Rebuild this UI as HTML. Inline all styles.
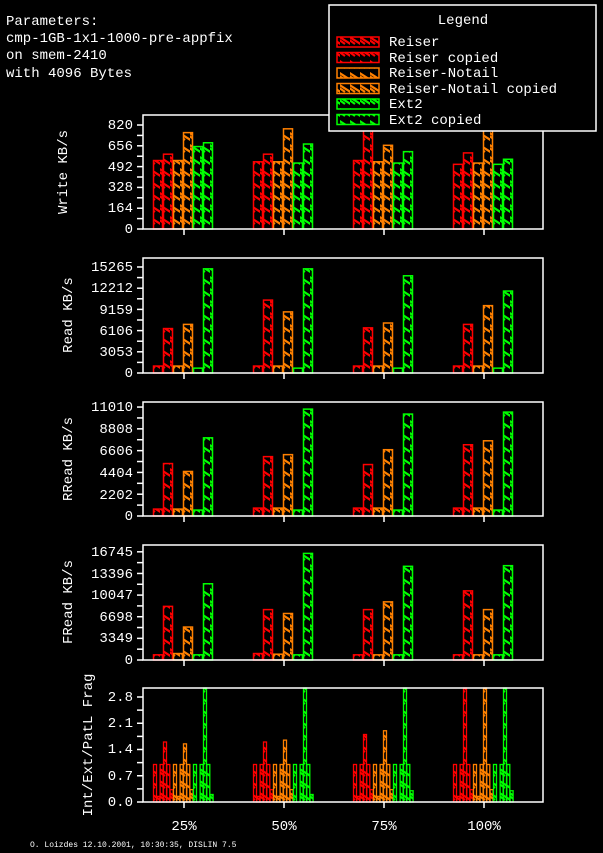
<!DOCTYPE html>
<html><head><style>
html,body{margin:0;padding:0;background:#000;overflow:hidden;}
svg{display:block;}
text{font-family:"Liberation Mono",monospace;fill:#fff;font-size:14px;}
</style></head><body>
<svg id="s" width="603" height="853" viewBox="0 0 603 853" xmlns="http://www.w3.org/2000/svg">
<defs>
<pattern id="hr" width="10" height="12" patternUnits="userSpaceOnUse"><path d="M-2,0 L12,9 M-2,3 L5,8" stroke="#f00" stroke-width="2.2"/></pattern>
<pattern id="ho" width="10" height="12" patternUnits="userSpaceOnUse"><path d="M-2,0 L12,9 M-2,3 L5,8" stroke="#ff8000" stroke-width="2.2"/></pattern>
<pattern id="hg" width="10" height="12" patternUnits="userSpaceOnUse"><path d="M-2,0 L12,9 M-2,3 L5,8" stroke="#0f0" stroke-width="2.2"/></pattern>
</defs>
<text x="6" y="25">Parameters:</text>
<text x="6" y="42">cmp-1GB-1x1-1000-pre-appfix</text>
<text x="6" y="59">on smem-2410</text>
<text x="6" y="77">with 4096 Bytes</text>
<g id="bars"></g>
<g stroke="#fff" stroke-width="1.5" fill="none">
<path d="M143,115H543V229H143Z M143,258H543V373H143Z M143,402H543V516H143Z M143,545H543V660H143Z M143,688H543V802H143Z"/>
</g>
<g id="axes" stroke="#fff" stroke-width="1.5" fill="none"></g>
<text x="133" y="233" text-anchor="end">0</text>
<text x="133" y="212" text-anchor="end">164</text>
<text x="133" y="191" text-anchor="end">328</text>
<text x="133" y="171" text-anchor="end">492</text>
<text x="133" y="150" text-anchor="end">656</text>
<text x="133" y="129" text-anchor="end">820</text>
<text x="133" y="377" text-anchor="end">0</text>
<text x="133" y="356" text-anchor="end">3053</text>
<text x="133" y="335" text-anchor="end">6106</text>
<text x="133" y="314" text-anchor="end">9159</text>
<text x="133" y="292" text-anchor="end">12212</text>
<text x="133" y="271" text-anchor="end">15265</text>
<text x="133" y="520" text-anchor="end">0</text>
<text x="133" y="499" text-anchor="end">2202</text>
<text x="133" y="477" text-anchor="end">4404</text>
<text x="133" y="455" text-anchor="end">6606</text>
<text x="133" y="433" text-anchor="end">8808</text>
<text x="133" y="411" text-anchor="end">11010</text>
<text x="133" y="664" text-anchor="end">0</text>
<text x="133" y="642" text-anchor="end">3349</text>
<text x="133" y="621" text-anchor="end">6698</text>
<text x="133" y="599" text-anchor="end">10047</text>
<text x="133" y="578" text-anchor="end">13396</text>
<text x="133" y="556" text-anchor="end">16745</text>
<text x="133" y="806" text-anchor="end">0.0</text>
<text x="133" y="780" text-anchor="end">0.7</text>
<text x="133" y="753" text-anchor="end">1.4</text>
<text x="133" y="727" text-anchor="end">2.1</text>
<text x="133" y="701" text-anchor="end">2.8</text>
<text transform="translate(67,172) rotate(-90)" text-anchor="middle">Write KB/s</text>
<text transform="translate(72,315) rotate(-90)" text-anchor="middle">Read KB/s</text>
<text transform="translate(72,459) rotate(-90)" text-anchor="middle">RRead KB/s</text>
<text transform="translate(72,602) rotate(-90)" text-anchor="middle">FRead KB/s</text>
<text transform="translate(92,745) rotate(-90)" text-anchor="middle">Int/Ext/PatL Frag</text>
<text x="184" y="830" text-anchor="middle">25%</text>
<text x="284" y="830" text-anchor="middle">50%</text>
<text x="384" y="830" text-anchor="middle">75%</text>
<text x="484" y="830" text-anchor="middle">100%</text>
<text x="30" y="847" style="font-size:8px">O. Loizdes 12.10.2001, 10:30:35, DISLIN 7.5</text>
<rect x="329" y="5" width="267" height="126" fill="#000" stroke="#fff" stroke-width="1.5"/>
<text x="463" y="24" text-anchor="middle">Legend</text>
<g id="leg"></g>
<text x="389" y="46">Reiser</text>
<text x="389" y="62">Reiser copied</text>
<text x="389" y="77">Reiser-Notail</text>
<text x="389" y="93">Reiser-Notail copied</text>
<text x="389" y="108">Ext2</text>
<text x="389" y="124">Ext2 copied</text>
</svg>
<script>
var NS="http://www.w3.org/2000/svg";
function el(p,t,a){var e=document.createElementNS(NS,t);for(var k in a)e.setAttribute(k,a[k]);p.appendChild(e);return e;}
var cols=["#f00","#f00","#ff8000","#ff8000","#0f0","#0f0"],pats=["hr","hr","ho","ho","hg","hg"];
var B=document.getElementById("bars"),A=document.getElementById("axes"),L=document.getElementById("leg");
for(var i=0;i<6;i++){var y=37+i*15.5;el(L,"rect",{x:337,y:y,width:42,height:10,fill:"url(#"+pats[i]+")",stroke:cols[i],"stroke-width":1.5});}
var panels=[
 {top:115,bot:229,max:899,step:82,d:[[540,590,540,760,650,680],[530,590,530,790,520,670],[540,860,530,660,520,610],[510,600,520,780,510,550]]},
 {top:258,bot:373,max:16560,step:1526.5,d:[[1000,6400,1000,7000,700,15000],[1000,10500,1000,8800,700,15000],[1000,6500,1000,7200,700,14000],[1000,7000,1000,9700,700,11800]]},
 {top:402,bot:516,max:11520,step:1101,d:[[700,5300,700,4500,600,7900],[800,6000,800,6200,600,10800],[800,5200,800,6700,600,10300],[800,7200,800,7600,600,10500]]},
 {top:545,bot:660,max:17800,step:1674.5,d:[[800,8300,1000,5100,800,11800],[1000,7800,900,7200,800,16500],[800,7800,800,9000,800,14500],[800,10700,800,7800,800,14600]]}
];
panels.forEach(function(p){
 var h=p.bot-p.top;
 p.d.forEach(function(g,gi){
  var x0=153+gi*100;
  g.forEach(function(v,i){var bh=v/p.max*h;el(B,"rect",{x:x0+i*10+0.5,y:p.bot-bh,width:9,height:bh,fill:"url(#"+pats[i]+")",stroke:cols[i],"stroke-width":1.5});});
  el(A,"line",{x1:x0+31,y1:p.bot,x2:x0+31,y2:p.bot+6});
 });
 for(var t=0;t<=12;t++){var yy=p.bot-t*p.step/p.max*h;if(yy<p.top)break;el(A,"line",{x1:137,y1:yy,x2:143,y2:yy});}
});
var top=688,bot=802,h=114,mx=3.04;
var fd=[
 [[1,0.15,1],[1.6,1,0.33],[1,0.15,1],[1.55,1,0.33],[1,0,1],[3.04,1,0.2]],
 [[1,0.15,1],[1.6,1,0.33],[1,0.15,1],[1.65,1,0.33],[1,0,1],[3.04,1,0.2]],
 [[1,0.15,1],[1.8,1,0.33],[1,0.15,1],[1.9,1,0.33],[1,0,1],[3.04,1,0.3]],
 [[1,0.15,1],[3.04,1,0.33],[1,0.15,1],[3.04,1,0.33],[1,0,1],[3.04,1,0.3]]
];
fd.forEach(function(g,gi){
 var x0=153+gi*100;
 g.forEach(function(s,i){s.forEach(function(v,j){if(!v)return;var bh=v/mx*h;el(B,"rect",{x:x0+i*10+j*3.3+0.5,y:bot-bh,width:3,height:bh,fill:"url(#"+pats[i]+")",stroke:cols[i],"stroke-width":1.3});});});
 el(A,"line",{x1:x0+31,y1:bot,x2:x0+31,y2:bot+6});
});
for(var t=0;t<=8;t++){var yy=bot-t*0.35/mx*h;if(yy<top)break;el(A,"line",{x1:137,y1:yy,x2:143,y2:yy});}
</script>
</body></html>
